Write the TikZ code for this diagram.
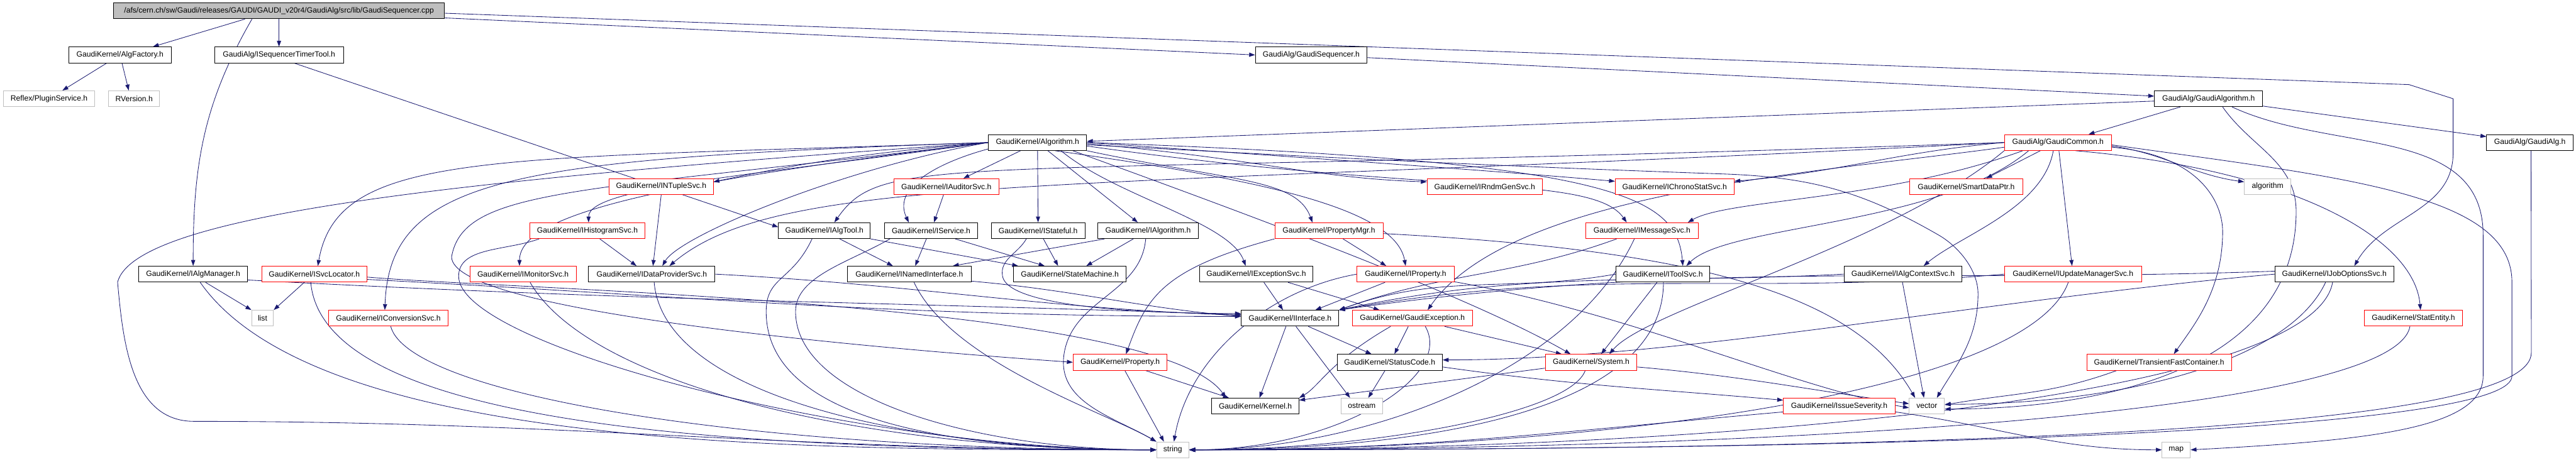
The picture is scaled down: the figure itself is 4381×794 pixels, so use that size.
\documentclass[tikz,border=0pt]{standalone}
\usepackage{fontspec}
\setmainfont{Liberation Sans}
\usetikzlibrary{arrows.meta}
\definecolor{edgeblue}{HTML}{191970}
\definecolor{boxgray}{HTML}{BFBFBF}
\definecolor{boxred}{HTML}{FF0000}
\pgfdeclarelayer{edges}
\pgfsetlayers{edges,main}

\begin{document}
\begin{tikzpicture}[
  x=1pt, y=1pt,
  hdr/.style={rectangle, draw=black, fill=white, line width=1pt, inner sep=0pt, minimum height=27pt, font=\fontsize{13}{15}\selectfont},
  trunc/.style={hdr, draw=boxred},
  sysbox/.style={hdr, draw=boxgray},
  rootbox/.style={hdr, fill=boxgray},
  dep/.style={draw=edgeblue, line width=0.9pt, -{Triangle[length=10pt, width=7pt]}}
]
  \useasboundingbox (0,0) rectangle (4381,-794);

  % source file
  \node[rootbox, minimum width=563pt] (root) at (474.5,-18.5) {/afs/cern.ch/sw/Gaudi/releases/GAUDI/GAUDI\_v20r4/GaudiAlg/src/lib/GaudiSequencer.cpp};

  % rank 1
  \node[hdr, minimum width=174pt] (algfactory) at (204,-93.5) {GaudiKernel/AlgFactory.h};
  \node[hdr, minimum width=219pt] (seqtimer) at (474.5,-93.5) {GaudiAlg/ISequencerTimerTool.h};
  \node[hdr, minimum width=190pt] (seqh) at (2230,-93.5) {GaudiAlg/GaudiSequencer.h};

  % rank 2
  \node[sysbox, minimum width=155pt] (reflex) at (83.5,-168) {Reflex/PluginService.h};
  \node[sysbox, minimum width=87pt] (rversion) at (228,-168) {RVersion.h};
  \node[hdr, minimum width=184pt] (gaudialgorithm) at (3756,-168) {GaudiAlg/GaudiAlgorithm.h};

  % rank 3
  \node[hdr, minimum width=167pt] (algorithm) at (1764.5,-242.5) {GaudiKernel/Algorithm.h};
  \node[trunc, minimum width=182pt] (gaudicommon) at (3500,-242.5) {GaudiAlg/GaudiCommon.h};
  \node[hdr, minimum width=147pt] (gaudialg) at (4302.5,-242.5) {GaudiAlg/GaudiAlg.h};

  % rank 4
  \node[trunc, minimum width=177pt] (ntuplesvc) at (1124.5,-317.5) {GaudiKernel/INTupleSvc.h};
  \node[trunc, minimum width=179pt] (auditorsvc) at (1609.5,-317.5) {GaudiKernel/IAuditorSvc.h};
  \node[trunc, minimum width=196pt] (rndmgensvc) at (2525,-317.5) {GaudiKernel/IRndmGenSvc.h};
  \node[trunc, minimum width=202pt] (chronostatsvc) at (2848,-317.5) {GaudiKernel/IChronoStatSvc.h};
  \node[trunc, minimum width=192pt] (smartdataptr) at (3344,-317.5) {GaudiKernel/SmartDataPtr.h};
  \node[sysbox, minimum width=79pt] (algorithmstl) at (3856.5,-317.5) {algorithm};

  % rank 5
  \node[trunc, minimum width=196pt] (histogramsvc) at (999,-392.5) {GaudiKernel/IHistogramSvc.h};
  \node[hdr, minimum width=156pt] (algtool) at (1402,-392.5) {GaudiKernel/IAlgTool.h};
  \node[hdr, minimum width=159pt] (service) at (1583.5,-392.5) {GaudiKernel/IService.h};
  \node[hdr, minimum width=159pt] (stateful) at (1765.5,-392.5) {GaudiKernel/IStateful.h};
  \node[hdr, minimum width=171pt] (ialgorithm) at (1952.5,-392.5) {GaudiKernel/IAlgorithm.h};
  \node[trunc, minimum width=184pt] (propertymgr) at (2260,-392.5) {GaudiKernel/PropertyMgr.h};
  \node[trunc, minimum width=191pt] (messagesvc) at (2792.5,-392.5) {GaudiKernel/IMessageSvc.h};

  % rank 6
  \node[hdr, minimum width=185pt] (algmanager) at (328.5,-466.5) {GaudiKernel/IAlgManager.h};
  \node[trunc, minimum width=179pt] (svclocator) at (534.5,-466.5) {GaudiKernel/ISvcLocator.h};
  \node[trunc, minimum width=181pt] (monitorsvc) at (889.5,-466.5) {GaudiKernel/IMonitorSvc.h};
  \node[hdr, minimum width=215pt] (dataprovidersvc) at (1108.5,-466.5) {GaudiKernel/IDataProviderSvc.h};
  \node[hdr, minimum width=211pt] (namedinterface) at (1546.5,-466.5) {GaudiKernel/INamedInterface.h};
  \node[hdr, minimum width=191pt] (statemachine) at (1819.5,-466.5) {GaudiKernel/StateMachine.h};
  \node[hdr, minimum width=193pt] (exceptionsvc) at (2136.5,-466.5) {GaudiKernel/IExceptionSvc.h};
  \node[trunc, minimum width=165pt] (iproperty) at (2390.5,-466.5) {GaudiKernel/IProperty.h};
  \node[hdr, minimum width=160pt] (toolsvc) at (2828,-466.5) {GaudiKernel/IToolSvc.h};
  \node[hdr, minimum width=201pt] (algcontextsvc) at (3236.5,-466.5) {GaudiKernel/IAlgContextSvc.h};
  \node[trunc, minimum width=233pt] (updatemanagersvc) at (3525.5,-466.5) {GaudiKernel/IUpdateManagerSvc.h};
  \node[hdr, minimum width=202pt] (joboptionssvc) at (3970,-466.5) {GaudiKernel/IJobOptionsSvc.h};

  % rank 7
  \node[sysbox, minimum width=37pt] (list) at (446.5,-541.5) {list};
  \node[trunc, minimum width=203pt] (conversionsvc) at (660.5,-541.5) {GaudiKernel/IConversionSvc.h};
  \node[hdr, minimum width=166pt] (interface) at (2194,-541.5) {GaudiKernel/IInterface.h};
  \node[trunc, minimum width=204pt] (gaudiexception) at (2402,-541.5) {GaudiKernel/GaudiException.h};
  \node[trunc, minimum width=167pt] (statentity) at (4104.5,-541.5) {GaudiKernel/StatEntity.h};

  % rank 8
  \node[trunc, minimum width=160pt] (property) at (1905,-616.5) {GaudiKernel/Property.h};
  \node[hdr, minimum width=179pt] (statuscode) at (2363.5,-616.5) {GaudiKernel/StatusCode.h};
  \node[trunc, minimum width=156pt] (system) at (2706,-616.5) {GaudiKernel/System.h};
  \node[trunc, minimum width=246pt] (transientfast) at (3672,-616.5) {GaudiKernel/TransientFastContainer.h};

  % rank 9
  \node[hdr, minimum width=148pt] (kernel) at (2135,-691) {GaudiKernel/Kernel.h};
  \node[sysbox, minimum width=70pt] (ostream) at (2316,-691) {ostream};
  \node[trunc, minimum width=190pt] (issueseverity) at (3128,-691) {GaudiKernel/IssueSeverity.h};
  \node[sysbox, minimum width=60pt] (vector) at (3277,-691) {vector};

  % rank 10
  \node[sysbox, minimum width=55pt] (string) at (1994.5,-765.5) {string};
  \node[sysbox, minimum width=48pt] (map) at (3701,-765.5) {map};

  \begin{pgfonlayer}{edges}
  % GaudiSequencer.cpp
  \draw[dep] ([xshift=-58pt]root.south) -- ([xshift=56pt]algfactory.north);
  \draw[dep] (root) -- (seqtimer);
  \draw[dep] ([xshift=-46pt]root.south) to[out=-120,in=90] (algmanager.north);
  \draw[dep] ([yshift=-12pt]root.east) -- (seqh.west);
  \draw[dep] ([yshift=-4pt]root.east) -- (4097,-144) -- (4172,-168) -- (4172,-260) to[out=-90,in=60] ([xshift=34pt]joboptionssvc.north);

  % AlgFactory.h, ISequencerTimerTool.h, GaudiSequencer.h
  \draw[dep] (algfactory) -- (reflex);
  \draw[dep] (algfactory) -- ([xshift=-9pt]rversion.north);
  \draw[dep] ([xshift=26pt]seqtimer.south) -- ([yshift=6pt]algtool.west);
  \draw[dep] (seqh) -- (gaudialgorithm);

  % GaudiAlgorithm.h, GaudiAlg.h
  \draw[dep] (gaudialgorithm) -- (gaudialg);
  \draw[dep] ([xshift=-48pt]gaudialgorithm.south) -- ([xshift=52pt]gaudicommon.north);
  \draw[dep] ([yshift=-4pt]gaudialgorithm.west) -- ([yshift=2pt]algorithm.east);
  \draw[dep] ([xshift=24pt]gaudialgorithm.south) to[out=-55,in=90] (3905,-360) .. controls +(-90:268) and +(0:268) .. ([yshift=-5pt]vector.east);
  \draw[dep] ([xshift=40pt]gaudialgorithm.south) to[out=-25,in=90] (4223,-400) -- (4223,-640) .. controls +(-90:90) and +(3:300) .. (map.east);
  \draw[dep] ([xshift=2pt]gaudialg.south) -- (4305,-600) .. controls +(-90:120) and +(0:1500) .. (string.east);

  % Algorithm.h
  \draw[dep] (algorithm) -- (auditorsvc);
  \draw[dep] (algorithm) -- (stateful);
  \draw[dep] (algorithm) -- (ialgorithm);
  \draw[dep] ([yshift=3pt]algorithm.south west) to[out=195,in=115] ([xshift=-38pt]service.north);
  \draw[dep] (algorithm.west) to[out=185,in=12] ([yshift=8pt]ntuplesvc.east);
  \draw[dep] (algorithm.west) .. controls +(188:400) and +(90:60) .. ([xshift=2pt]histogramsvc.north);
  \draw[dep] (algorithm.west) .. controls +(187:550) and +(90:90) .. ([xshift=-6pt]monitorsvc.north);
  \draw[dep] (algorithm.west) .. controls +(190:250) and +(60:60) .. ([xshift=18pt]dataprovidersvc.north);
  \draw[dep] (algorithm.west) .. controls +(182:850) and +(80:200) .. ([xshift=6pt]svclocator.north);
  \draw[dep] (algorithm.west) .. controls +(182:800) and +(88:230) .. ([xshift=-6pt]conversionsvc.north);
  \draw[dep] (algorithm.west) .. controls +(184:900) and +(75:120) .. (200,-480) to[out=-85,in=180] (330,-717) .. controls +(0:640) and +(180:640) .. (string.west);
  \draw[dep] (algorithm.west) .. controls +(187:700) and +(80:120) .. (768,-437) .. controls +(-90:90) and +(176:400) .. (property.west);
  \draw[dep] ([xshift=30pt]algorithm.south) .. controls +(-8:350) and +(100:100) .. (iproperty.north);
  \draw[dep] (algorithm.south east) .. controls +(-12:250) and +(110:80) .. ([xshift=-28pt]propertymgr.north);
  \draw[dep] ([yshift=-2pt]algorithm.east) .. controls +(-5:300) and +(178:200) .. ([yshift=8pt]rndmgensvc.west);
  \draw[dep] (algorithm.east) .. controls +(-4:400) and +(175:200) .. ([yshift=9pt]chronostatsvc.west);
  \draw[dep] ([yshift=-6pt]algorithm.east) .. controls +(-8:600) and +(125:100) .. ([xshift=-26pt]messagesvc.north);
  \draw[dep] (algorithm.east) .. controls +(-2:900) and +(95:120) .. ([xshift=34pt]toolsvc.north);
  \draw[dep] ([xshift=40pt]algorithm.south) .. controls +(-40:120) and +(110:80) .. ([xshift=-18pt]exceptionsvc.north);
  \draw[dep] ([xshift=60pt]algorithm.south) .. controls +(-20:300) and +(150:200) .. ([xshift=-35pt]system.north);
  \draw[dep] ([yshift=-4pt]algorithm.east) .. controls +(-3:420) and +(178:420) .. (2930,-296) to[out=-2,in=150] (3297,-400) .. controls +(-30:40) and +(90:40) .. (3364,-500) .. controls +(-90:80) and +(60:60) .. ([xshift=17pt]vector.north);

  % GaudiCommon.h
  \draw[dep] (gaudicommon.west) to[out=185,in=5] ([yshift=9pt]chronostatsvc.east);
  \draw[dep] ([xshift=-30pt]gaudicommon.south) -- ([xshift=34pt]smartdataptr.north);
  \draw[dep] ([yshift=-6pt]gaudicommon.east) to[out=-8,in=172] ([yshift=8pt]algorithmstl.west);
  \draw[dep] ([yshift=-8pt]gaudicommon.west) .. controls +(188:300) and +(55:250) .. ([xshift=26pt]gaudiexception.north);
  \draw[dep] ([xshift=-60pt]gaudicommon.south) .. controls +(-160:250) and +(30:80) .. ([xshift=78pt]messagesvc.north);
  \draw[dep] ([xshift=-50pt]gaudicommon.south) .. controls +(-140:200) and +(45:100) .. ([xshift=40pt]toolsvc.north);
  \draw[dep] (gaudicommon.south west) .. controls +(-140:250) and +(50:100) .. ([xshift=31pt]system.north);
  \draw[dep] (gaudicommon.west) .. controls +(183:1600) and +(40:250) .. ([xshift=30pt]dataprovidersvc.north);
  \draw[dep] (gaudicommon.west) .. controls +(182:1800) and +(55:150) .. ([xshift=17pt]algtool.north);
  \draw[dep] (gaudicommon) -- (updatemanagersvc);
  \draw[dep] ([xshift=-8pt]gaudicommon.south) .. controls +(-100:100) and +(40:80) .. ([xshift=35pt]algcontextsvc.north);
  \draw[dep] ([xshift=30pt]gaudicommon.south) .. controls +(-5:380) and +(95:120) .. ([xshift=12pt]statentity.north);
  \draw[dep] ([yshift=-8pt]gaudicommon.east) .. controls +(-5:150) and +(90:50) .. (3780,-394) .. controls +(-90:100) and +(55:60) .. ([xshift=25pt]transientfast.north);
  \draw[dep] ([yshift=-4pt]gaudicommon.east) .. controls +(-8:400) and +(90:150) .. (4272,-480) -- (4272,-640) .. controls +(-90:80) and +(0:1500) .. (string.east);

  % IAlgManager.h, ISvcLocator.h, IConversionSvc.h
  \draw[dep] ([xshift=21pt]algmanager.south) -- (list.north west);
  \draw[dep] ([xshift=12pt]algmanager.south) .. controls +(-55:350) and +(180:600) .. (string.west);
  \draw[dep] ([yshift=-10pt]algmanager.east) .. controls +(-3:700) and +(178:700) .. ([yshift=6pt]interface.west);
  \draw[dep] ([xshift=-17pt]svclocator.south) -- (list.north east);
  \draw[dep] ([xshift=-6pt]svclocator.south) .. controls +(-85:250) and +(180:700) .. (string.west);
  \draw[dep] ([yshift=-5pt]svclocator.east) .. controls +(-5:250) and +(125:200) .. ([xshift=-50pt]kernel.north);
  \draw[dep] ([yshift=-9pt]svclocator.east) .. controls +(-3:600) and +(180:600) .. ([yshift=3pt]interface.west);
  \draw[dep] ([xshift=4pt]conversionsvc.south) .. controls +(-75:120) and +(180:700) .. (string.west);

  % IMonitorSvc.h, IHistogramSvc.h, INTupleSvc.h, IDataProviderSvc.h
  \draw[dep] ([xshift=12pt]monitorsvc.south) .. controls +(-60:200) and +(180:500) .. (string.west);
  \draw[dep] ([xshift=21pt]histogramsvc.south) -- ([xshift=-26pt]dataprovidersvc.north);
  \draw[dep] ([xshift=-82pt]histogramsvc.south) .. controls +(200:60) and +(90:50) .. (780,-470) .. controls +(-90:120) and +(180:500) .. (string.west);
  \draw[dep] (ntuplesvc.south) -- ([xshift=2pt]dataprovidersvc.north);
  \draw[dep] ([xshift=4pt]dataprovidersvc.south) .. controls +(-85:200) and +(180:400) .. (string.west);
  \draw[dep] (dataprovidersvc.east) .. controls +(-3:350) and +(178:350) .. ([yshift=5pt]interface.west);

  % IAlgTool.h, INamedInterface.h, IService.h, IAuditorSvc.h
  \draw[dep] ([xshift=26pt]algtool.south) -- ([xshift=-28pt]namedinterface.north);
  \draw[dep] (algtool.south east) -- ([xshift=-88pt]statemachine.north);
  \draw[dep] ([xshift=-21pt]algtool.south) .. controls +(-115:80) and +(90:60) .. (1303,-530) .. controls +(-90:200) and +(180:300) .. (string.west);
  \draw[dep] ([yshift=-12pt]namedinterface.east) to[out=-5,in=175] ([yshift=3pt]interface.west);
  \draw[dep] ([xshift=8pt]namedinterface.south) .. controls +(-65:150) and +(150:100) .. (string.north west);
  \draw[dep] ([xshift=-8pt]service.south) -- ([xshift=10pt]namedinterface.north);
  \draw[dep] ([xshift=41pt]service.south) -- ([xshift=-43pt]statemachine.north);
  \draw[dep] ([xshift=-70pt]service.south) .. controls +(-150:80) and +(90:60) .. (1353,-530) .. controls +(-90:150) and +(180:300) .. (string.west);
  \draw[dep] (auditorsvc) -- (service);

  % IStateful.h, IAlgorithm.h
  \draw[dep] ([xshift=9pt]stateful.south) -- ([xshift=-20pt]statemachine.north);
  \draw[dep] ([xshift=-20pt]stateful.south) to[out=-120,in=100] (1705,-470) to[out=-80,in=180,looseness=0.4] ([yshift=8pt]interface.west);
  \draw[dep] ([xshift=-74pt]ialgorithm.south) -- ([xshift=74pt]namedinterface.north);
  \draw[dep] ([xshift=-25pt]ialgorithm.south) -- ([xshift=28pt]statemachine.north);
  \draw[dep] ([xshift=-4pt]ialgorithm.south) to[out=-95,in=80] (1810,-600) to[out=-100,in=150] (string.north west);

  % PropertyMgr.h, IProperty.h, IExceptionSvc.h
  \draw[dep] ([xshift=24pt]propertymgr.south) -- ([xshift=-33pt]iproperty.north);
  \draw[dep] (propertymgr.south west) .. controls +(-165:200) and +(70:100) .. ([xshift=10pt]property.north);
  \draw[dep] ([yshift=-5pt]propertymgr.east) .. controls +(-3:550) and +(120:200) .. ([xshift=-20pt]vector.north);
  \draw[dep] ([xshift=-35pt]iproperty.south) -- ([xshift=43pt]interface.north);
  \draw[dep] (iproperty.west) .. controls +(190:150) and +(80:150) .. ([xshift=2pt]string.north);
  \draw[dep] ([yshift=-13pt]iproperty.east) .. controls +(-10:300) and +(170:200) .. ([yshift=-3pt]vector.west);
  \draw[dep] ([xshift=13pt]exceptionsvc.south) -- ([xshift=-12pt]interface.north);
  \draw[dep] ([xshift=54pt]exceptionsvc.south) -- ([xshift=-56pt]gaudiexception.north);

  % IMessageSvc.h, IToolSvc.h, IAlgContextSvc.h, IUpdateManagerSvc.h, IJobOptionsSvc.h
  \draw[dep] ([xshift=-43pt]messagesvc.south) .. controls +(-160:190) and +(20:190) .. (interface.north east);
  \draw[dep] ([xshift=-13pt]messagesvc.south) .. controls +(-115:250) and +(0:300) .. (string.east);
  \draw[dep] (toolsvc.west) .. controls +(190:185) and +(20:185) .. (interface.north east);
  \draw[dep] ([xshift=-10pt]toolsvc.south) -- ([xshift=17pt]system.north);
  \draw[dep] ([xshift=1pt]toolsvc.south) .. controls +(-90:220) and +(0:400) .. (string.east);
  \draw[dep] (algcontextsvc.west) .. controls +(183:330) and +(12:330) .. (interface.north east);
  \draw[dep] ([xshift=-1pt]algcontextsvc.south) -- ([xshift=-5pt]vector.north);
  \draw[dep] (updatemanagersvc.west) .. controls +(185:440) and +(10:440) .. (interface.north east);
  \draw[dep] ([xshift=-8pt]updatemanagersvc.south) .. controls +(-110:200) and +(0:700) .. (string.east);
  \draw[dep] ([yshift=5pt]joboptionssvc.west) .. controls +(182:620) and +(8:620) .. (interface.north east);
  \draw[dep] (joboptionssvc.west) .. controls +(185:500) and +(0:400) .. ([yshift=4pt]statuscode.east);
  \draw[dep] ([xshift=-15pt]joboptionssvc.south) .. controls +(-115:150) and +(0:300) .. ([yshift=3pt]vector.east);
  \draw[dep] ([xshift=-3pt]joboptionssvc.south) .. controls +(-100:200) and +(0:900) .. (string.east);

  % IInterface.h, GaudiException.h, StatusCode.h, System.h, Property.h
  \draw[dep] ([xshift=-7pt]interface.south) -- ([xshift=7pt]kernel.north);
  \draw[dep] ([xshift=31pt]interface.south) -- ([xshift=-31pt]statuscode.north);
  \draw[dep] ([xshift=10pt]interface.south) -- ([xshift=-20pt]ostream.north);
  \draw[dep] ([xshift=-7pt]gaudiexception.south) -- ([xshift=8pt]statuscode.north);
  \draw[dep] ([xshift=55pt]gaudiexception.south) -- ([xshift=-50pt]system.north);
  \draw[dep] ([xshift=-37pt]gaudiexception.south) .. controls +(-150:120) and +(30:40) .. (kernel.north east);
  \draw[dep] ([xshift=22pt]gaudiexception.south) .. controls +(-60:100) and +(0:250) .. (string.east);
  \draw[dep] ([xshift=-8pt]statuscode.south) -- ([xshift=11pt]ostream.north);
  \draw[dep] ([yshift=-8pt]statuscode.east) .. controls +(-8:230) and +(175:230) .. ([yshift=10pt]issueseverity.west);
  \draw[dep] ([yshift=-10pt]system.west) -- ([yshift=10pt]kernel.east);
  \draw[dep] ([xshift=-10pt]system.south) .. controls +(-110:80) and +(0:300) .. (string.east);
  \draw[dep] ([yshift=-8pt]system.east) .. controls +(-5:180) and +(172:180) .. ([yshift=4pt]vector.west);
  \draw[dep] ([xshift=8pt]property.south) -- ([xshift=-15pt]string.north);
  \draw[dep] ([xshift=43pt]property.south) -- ([xshift=-45pt]kernel.north);

  % IssueSeverity.h, TransientFastContainer.h, StatEntity.h
  \draw[dep] ([yshift=-10pt]issueseverity.west) .. controls +(185:400) and +(0:400) .. (string.east);
  \draw[dep] ([yshift=-10pt]issueseverity.east) .. controls +(-8:180) and +(180:180) .. (map.west);
  \draw[dep] ([xshift=-72pt]transientfast.south) .. controls +(-160:120) and +(10:120) .. ([yshift=2pt]vector.east);
  \draw[dep] ([xshift=-6pt]statentity.south) .. controls +(-100:150) and +(0:1000) .. (string.east);
  \end{pgfonlayer}
\end{tikzpicture}
\end{document}
